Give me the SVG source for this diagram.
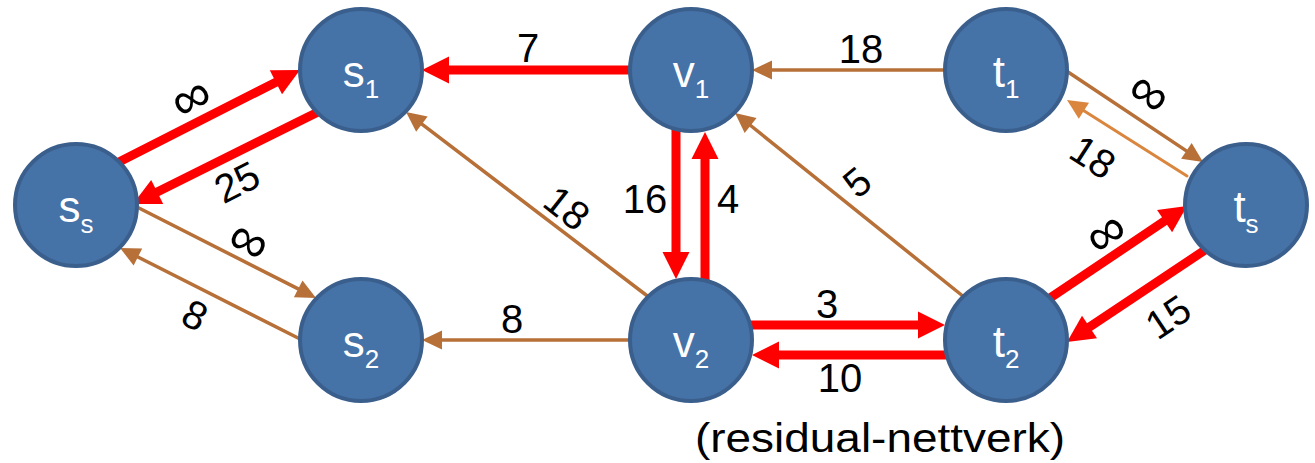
<svg xmlns="http://www.w3.org/2000/svg" width="1315" height="463" viewBox="0 0 1315 463">
<style>
.node circle{fill:#4572A7;stroke:#3B5F8C;stroke-width:4}
.nl{font-family:"Liberation Sans",Arial,sans-serif;font-size:44px;fill:#fff;text-anchor:middle}
.sub{font-size:26px}
.red{stroke:#FF0000;stroke-width:9;stroke-linecap:round;fill:none;marker-end:url(#ar)}
.br{stroke:#B77038;stroke-width:3.5;stroke-linecap:round;fill:none;marker-end:url(#ab)}
.lo{stroke:#DA863E;stroke-width:3;stroke-linecap:round;fill:none;marker-end:url(#al)}
.lb{font-family:"Liberation Sans",Arial,sans-serif;font-size:40px;fill:#000;text-anchor:middle}
.inf{font-size:54px}
</style>
<defs>
<marker id="ar" markerUnits="userSpaceOnUse" markerWidth="28" markerHeight="28" refX="0" refY="13.5" orient="auto" overflow="visible"><path d="M0,0 L27,13.5 L0,27 z" fill="#FF0000"/></marker>
<marker id="ab" markerUnits="userSpaceOnUse" markerWidth="21" markerHeight="20" refX="0" refY="9.5" orient="auto" overflow="visible"><path d="M0,0 L20,9.5 L0,19 z" fill="#B77038"/></marker>
<marker id="al" markerUnits="userSpaceOnUse" markerWidth="21" markerHeight="20" refX="0" refY="9.5" orient="auto" overflow="visible"><path d="M0,0 L20,9.5 L0,19 z" fill="#DA863E"/></marker>
</defs>
<g id="connectors">
<line class="red" x1="117" y1="163" x2="275.9" y2="82.2"/>
<line class="red" x1="318" y1="112" x2="157.2" y2="192"/>
<line class="br" x1="133" y1="205" x2="298.2" y2="288.9"/>
<line class="br" x1="302" y1="340" x2="137.9" y2="257"/>
<line class="red" x1="632" y1="70" x2="449" y2="70"/>
<line class="br" x1="945" y1="70" x2="772" y2="70"/>
<line class="br" x1="650" y1="298" x2="421.9" y2="124.1"/>
<line class="red" x1="676" y1="128" x2="676" y2="252"/>
<line class="red" x1="705" y1="282" x2="705" y2="159"/>
<line class="br" x1="964" y1="297" x2="750.6" y2="125.5"/>
<line class="br" x1="1065" y1="70" x2="1186.4" y2="150.9"/>
<line class="lo" x1="1187" y1="176" x2="1083.9" y2="110.7"/>
<line class="red" x1="1050" y1="298" x2="1164.6" y2="221.1"/>
<line class="red" x1="1205" y1="250" x2="1089.5" y2="327"/>
<line class="br" x1="632" y1="340" x2="442" y2="340"/>
<line class="red" x1="750" y1="325" x2="918" y2="325"/>
<line class="red" x1="948" y1="355" x2="779" y2="355"/>
</g>
<g id="labels">
<text class="lb inf" transform="translate(192,100) rotate(-27)" y="15">∞</text>
<text class="lb" transform="translate(237,182) rotate(-27)" y="14">25</text>
<text class="lb inf" transform="translate(248,243) rotate(27)" y="15">∞</text>
<text class="lb" transform="translate(195,315) rotate(27)" y="14">8</text>
<text class="lb" x="528" y="62">7</text>
<text class="lb" x="861" y="63">18</text>
<text class="lb" transform="translate(567,208) rotate(38)" y="14">18</text>
<text class="lb" x="645" y="213">16</text>
<text class="lb" x="728" y="213">4</text>
<text class="lb" transform="translate(857,182) rotate(-40)" y="14">5</text>
<text class="lb inf" transform="translate(1148,95) rotate(34)" y="15">∞</text>
<text class="lb" transform="translate(1093,157) rotate(33)" y="14">18</text>
<text class="lb inf" transform="translate(1107,235) rotate(-34)" y="15">∞</text>
<text class="lb" transform="translate(1168,317) rotate(-34)" y="14">15</text>
<text class="lb" x="512" y="333">8</text>
<text class="lb" x="827" y="318">3</text>
<text class="lb" x="840" y="392">10</text>
<text class="lb" x="695" y="452" style="text-anchor:start" textLength="370" lengthAdjust="spacingAndGlyphs">(residual-nettverk)</text>
</g>
<g id="n_ss" class="node"><circle cx="76" cy="205" r="61"/><text class="nl" x="76" y="222">s<tspan class="sub" dy="11">s</tspan></text></g>
<g id="n_s1" class="node"><circle cx="361" cy="70" r="61"/><text class="nl" x="361" y="87">s<tspan class="sub" dy="11">1</tspan></text></g>
<g id="n_s2" class="node"><circle cx="361" cy="340" r="61"/><text class="nl" x="361" y="357">s<tspan class="sub" dy="11">2</tspan></text></g>
<g id="n_v1" class="node"><circle cx="691" cy="70" r="61"/><text class="nl" x="691" y="87">v<tspan class="sub" dy="11">1</tspan></text></g>
<g id="n_v2" class="node"><circle cx="691" cy="340" r="61"/><text class="nl" x="691" y="357">v<tspan class="sub" dy="11">2</tspan></text></g>
<g id="n_t1" class="node"><circle cx="1006" cy="70" r="61"/><text class="nl" x="1006" y="87">t<tspan class="sub" dy="11">1</tspan></text></g>
<g id="n_t2" class="node"><circle cx="1006" cy="340" r="61"/><text class="nl" x="1006" y="357">t<tspan class="sub" dy="11">2</tspan></text></g>
<g id="n_ts" class="node"><circle cx="1246" cy="205" r="61"/><text class="nl" x="1246" y="222">t<tspan class="sub" dy="11">s</tspan></text></g>
</svg>
